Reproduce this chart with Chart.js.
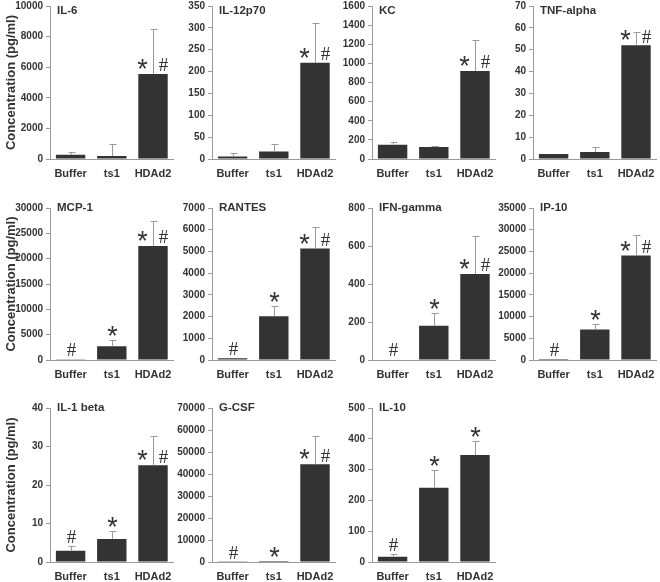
<!DOCTYPE html>
<html>
<head>
<meta charset="utf-8">
<script src="https://cdn.jsdelivr.net/npm/chart.js@4"></script>
<style>
html, body { margin: 0; padding: 0; background: #fff; }
#wrap { position: relative; width: 660px; height: 582px; overflow: hidden; }
#wrap canvas { position: absolute; }
</style>
</head>
<body>
<div id="wrap"></div>
<script>
// ── Datos ──
const groups  = ['Buffer', 'ts1', 'HDAd2'];
const names   = ['IL-6', 'IL-12p70', 'KC', 'TNF-alpha', 'MCP-1', 'RANTES', 'IFN-gamma', 'IP-10', 'IL-1 beta', 'G-CSF', 'IL-10'];
const yMax    = [10000, 350, 1600, 70, 30000, 7000, 800, 35000, 40, 70000, 500];
const yStep   = [2000, 50, 200, 10, 5000, 1000, 200, 5000, 10, 10000, 100];

const meanBuffer = [280, 6, 150, 2.3, 130, 77, 3, 230, 2.95, 100, 17];
const meanTs1    = [200, 17, 125, 3.2, 2700, 2020, 180, 7050, 6.0, 450, 241];
const meanHDAd2  = [5550, 220, 920, 52, 22500, 5130, 452, 24040, 25.1, 44440, 347];

const errBuffer  = [170, 7, 27, 0, 0, 0, 0, 0, 1.3, 0, 9];
const errTs1     = [800, 17, 11, 2.1, 1180, 480, 70, 1220, 2.15, 0, 59];
const errHDAd2   = [2930, 91, 320, 6.3, 5000, 1010, 203, 4830, 7.6, 12630, 45];

const markBuffer = ['', '', '', '', '#', '#', '#', '#', '#', '#', '#'];
const markTs1    = ['', '', '', '', '*', '*', '*', '*', '*', '*', '*'];
const markHDAd2  = ['*#', '*#', '*#', '*#', '*#', '*#', '*#', '*#', '*#', '*#', '*'];

// ── Disposición ──
const colAxisX  = [50, 212, 372, 533];
const rowTop    = [6, 208, 408];
const rowBottom = [159, 360, 562];
const plotW     = 126;
const yAxisW    = 50;
const xAxisH    = 26;
const padTop    = 12;

const textColor = '#333333';
const lineColor = '#9a9a9a';
const barColor  = '#333333';

Chart.defaults.font.family = 'Liberation Sans';

function drawStar(ctx, x, yc) {
    ctx.font = '27px "Liberation Sans"';
    ctx.textAlign = 'center';
    ctx.textBaseline = 'alphabetic';
    ctx.fillText('*', x, yc + 27 * 0.48);
}
function drawHash(ctx, x, yc) {
    ctx.font = '19px "Liberation Serif"';
    ctx.textAlign = 'center';
    ctx.textBaseline = 'alphabetic';
    ctx.fillText('#', x, yc + 19 * 0.33);
}

// ── Barras de error, marcas y título ──
const panelDeco = {
    id: 'panelDeco',
    afterDatasetsDraw(chart, args, opts) {
        const { ctx, chartArea } = chart;
        const y = chart.scales.y;
        const vals = chart.data.datasets[0].data;
        ctx.save();
        ctx.fillStyle = textColor;
        chart.getDatasetMeta(0).data.forEach((bar, i) => {
            const x = Math.round(bar.x) + 0.5;
            const top = y.getPixelForValue(vals[i]);
            const cap = Math.round(y.getPixelForValue(vals[i] + opts.errs[i])) + 0.5;
            if (opts.errs[i] > 0) {
                ctx.strokeStyle = lineColor;
                ctx.lineWidth = 1;
                ctx.beginPath();
                ctx.moveTo(x, top);
                ctx.lineTo(x, cap);
                ctx.moveTo(x - 3, cap);
                ctx.lineTo(x + 4, cap);
                ctx.stroke();
            }
            const m = opts.marks[i];
            if (m === '*#') {
                drawStar(ctx, x - 11, top - 9);
                drawHash(ctx, x + 10, top - 9);
            } else if (m === '*') {
                drawStar(ctx, x, cap - 8);
            } else if (m === '#') {
                drawHash(ctx, x, cap - 10);
            }
        });
        ctx.font = 'bold 11.5px "Liberation Sans"';
        ctx.textAlign = 'left';
        ctx.textBaseline = 'middle';
        ctx.fillText(opts.name, chartArea.left + 7, chartArea.top + opts.nameDy);
        ctx.restore();
    }
};

const wrap = document.getElementById('wrap');

names.forEach((name, idx) => {
    const row = Math.floor(idx / 4);
    const col = idx % 4;
    const axisX = colAxisX[col];
    const plotH = rowBottom[row] - rowTop[row];

    const canvas = document.createElement('canvas');
    canvas.width  = yAxisW + plotW + 4;
    canvas.height = padTop + plotH + xAxisH;
    canvas.style.left = (axisX - yAxisW) + 'px';
    canvas.style.top  = (rowTop[row] - padTop) + 'px';
    wrap.appendChild(canvas);

    new Chart(canvas, {
        type: 'bar',
        data: {
            labels: groups,
            datasets: [{
                data: [meanBuffer[idx], meanTs1[idx], meanHDAd2[idx]],
                backgroundColor: barColor,
                borderWidth: 0,
                categoryPercentage: 1,
                barPercentage: 0.714
            }]
        },
        options: {
            responsive: false,
            animation: false,
            layout: { padding: { top: padTop, right: 4, left: 0, bottom: 0 } },
            plugins: {
                legend: { display: false },
                tooltip: { enabled: false },
                panelDeco: {
                    name,
                    nameDy: row === 0 ? 5 : 0,
                    errs: [errBuffer[idx], errTs1[idx], errHDAd2[idx]],
                    marks: [markBuffer[idx], markTs1[idx], markHDAd2[idx]]
                }
            },
            scales: {
                x: {
                    grid: { display: false, drawTicks: false },
                    border: { color: lineColor, width: 1 },
                    ticks: {
                        color: textColor,
                        font: { size: 11, weight: 'bold' },
                        padding: 8,
                        autoSkip: false,
                        maxRotation: 0,
                        minRotation: 0
                    },
                    afterFit: s => { s.height = xAxisH; }
                },
                y: {
                    min: 0,
                    max: yMax[idx],
                    grid: { drawOnChartArea: false, drawTicks: true, tickLength: 4, color: lineColor },
                    border: { color: lineColor, width: 1 },
                    ticks: {
                        stepSize: yStep[idx],
                        color: textColor,
                        font: { size: 10, weight: 'bold' },
                        padding: 3,
                        callback: v => String(v)
                    },
                    title: {
                        display: col === 0,
                        text: 'Concentration (pg/ml)',
                        color: textColor,
                        font: { size: 13, weight: 'bold' },
                        padding: { top: 4, bottom: 0 }
                    },
                    afterFit: s => { s.width = yAxisW; }
                }
            }
        },
        plugins: [panelDeco]
    });
});
</script>
</body>
</html>
